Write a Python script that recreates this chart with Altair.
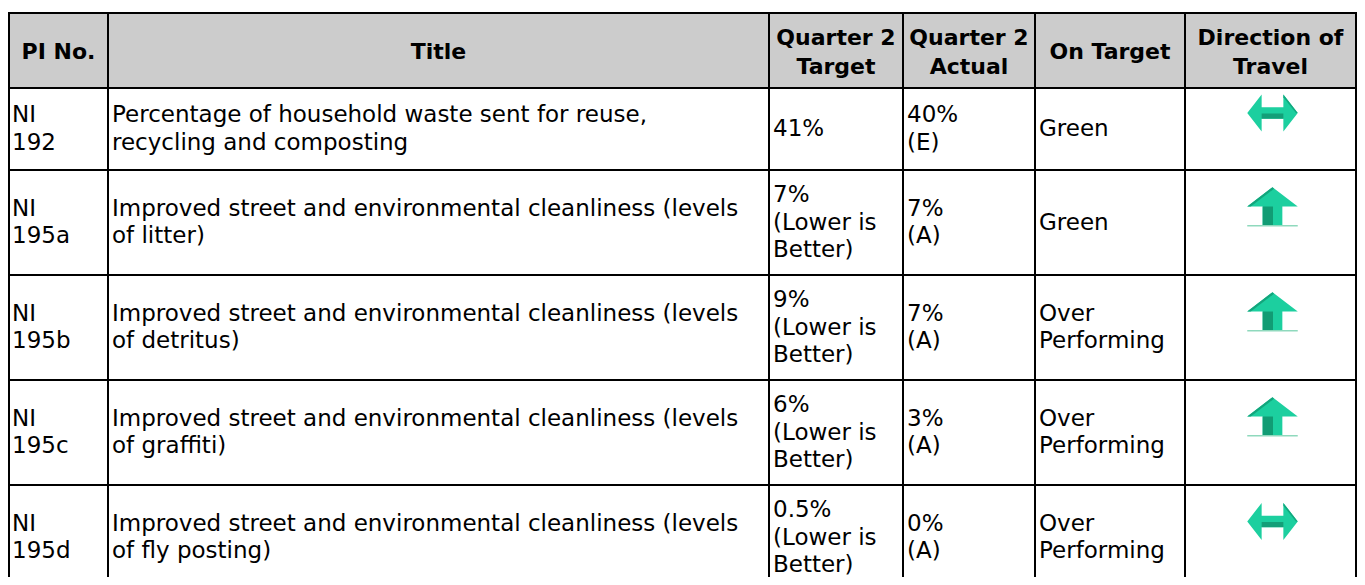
import altair as alt
import pandas as pd

# ---------------- data ----------------
HEADERS = ["PI No.", "Title", "Quarter 2\nTarget", "Quarter 2\nActual", "On Target", "Direction of\nTravel"]
PI_NO = ["NI\n192", "NI\n195a", "NI\n195b", "NI\n195c", "NI\n195d"]
TITLES = [
    "Percentage of household waste sent for reuse,\nrecycling and composting",
    "Improved street and environmental cleanliness (levels\nof litter)",
    "Improved street and environmental cleanliness (levels\nof detritus)",
    "Improved street and environmental cleanliness (levels\nof graffiti)",
    "Improved street and environmental cleanliness (levels\nof fly posting)",
]
TARGETS = ["41%", "7%\n(Lower is\nBetter)", "9%\n(Lower is\nBetter)", "6%\n(Lower is\nBetter)", "0.5%\n(Lower is\nBetter)"]
ACTUALS = ["40%\n(E)", "7%\n(A)", "7%\n(A)", "3%\n(A)", "0%\n(A)"]
ON_TARGET = ["Green", "Green", "Over\nPerforming", "Over\nPerforming", "Over\nPerforming"]
DIRECTION = ["same", "up", "up", "up", "same"]

# ---------------- layout (page pixels) ----------------
X0, X1 = 8, 1357
Y0, Y1 = 8, 577
W, H = X1 - X0, Y1 - Y0
COL_EDGES = [9, 108, 769, 903, 1035, 1185, 1356]
ROW_EDGES = [13, 88, 170, 275, 380, 485, 590]
FONT = "DejaVu Sans"
HDR_LH = 29
BODY_LH = 27.5

xs = alt.Scale(domain=[X0, X1], nice=False, zero=False)
ys = alt.Scale(domain=[Y0, Y1], nice=False, zero=False, reverse=True)


def X(f="x"):
    return alt.X(f"{f}:Q", scale=xs, axis=None)


def Y(f="y"):
    return alt.Y(f"{f}:Q", scale=ys, axis=None)


def block_y(center, text, lh):
    n = text.count("\n") + 1
    return center - (n - 1) * lh / 2


# header background
hdr_bg = pd.DataFrame([{"x": COL_EDGES[0], "x2": COL_EDGES[-1], "y": ROW_EDGES[0], "y2": ROW_EDGES[1]}])
bg = alt.Chart(hdr_bg).mark_rect(color="#cccccc").encode(x=X(), x2="x2:Q", y=Y(), y2="y2:Q")

# grid lines
vdf = pd.DataFrame([{"x": e, "y": ROW_EDGES[0] - 1, "y2": ROW_EDGES[-1]} for e in COL_EDGES])
hdf = pd.DataFrame([{"y": e, "x": COL_EDGES[0] - 1, "x2": COL_EDGES[-1] + 1} for e in ROW_EDGES])
vlines = alt.Chart(vdf).mark_rule(color="black", strokeWidth=2).encode(x=X(), y=Y(), y2="y2:Q")
hlines = alt.Chart(hdf).mark_rule(color="black", strokeWidth=2).encode(y=Y(), x=X(), x2="x2:Q")

# header text
hdr_rows = []
hc = (ROW_EDGES[0] + ROW_EDGES[1]) / 2 + 1.5
for i, h in enumerate(HEADERS):
    hdr_rows.append({"x": (COL_EDGES[i] + COL_EDGES[i + 1]) / 2,
                     "y": block_y(hc, h, HDR_LH), "t": h})
hdr_text = alt.Chart(pd.DataFrame(hdr_rows)).mark_text(
    font=FONT, fontWeight="bold", fontSize=22, lineHeight=HDR_LH, lineBreak="\n",
    align="center", baseline="middle", color="black"
).encode(x=X(), y=Y(), text="t:N")

# body text
body = []
cols = [PI_NO, TITLES, TARGETS, ACTUALS, ON_TARGET]
for r in range(len(PI_NO)):
    yc = (ROW_EDGES[r + 1] + ROW_EDGES[r + 2]) / 2
    for c, col in enumerate(cols):
        off = 3 if c == 0 else 4
        body.append({"x": COL_EDGES[c] + off, "y": block_y(yc, col[r], BODY_LH), "t": col[r]})
body_text = alt.Chart(pd.DataFrame(body)).mark_text(
    font=FONT, fontSize=23, lineHeight=BODY_LH, lineBreak="\n",
    align="left", baseline="middle", color="black"
).encode(x=X(), y=Y(), text="t:N")

# arrows
arr = []
for r, d in enumerate(DIRECTION):
    yc = (ROW_EDGES[r + 1] + ROW_EDGES[r + 2]) / 2 - 16
    arr.append({"x": (COL_EDGES[5] + COL_EDGES[6]) / 2 + 2, "y": yc, "dir": d})
adf = pd.DataFrame(arr)

H_MAIN = "M-1,0L-0.43,-0.735L-0.43,-0.225L0.43,-0.225L0.43,-0.735L1,0L0.43,0.735L0.43,0.225L-0.43,0.225L-0.43,0.735Z"
H_SHADE = "M-0.43,0.02L0.43,0.02L0.43,0.225L-0.43,0.225Z"
H_EDGE = "M0.43,-0.735L1,0L0.93,0L0.43,-0.62Z"
U_MAIN = "M0,-0.765L1,0L0.39,0L0.39,0.765L-0.39,0.765L-0.39,0L-1,0Z"
U_SHADE = "M-0.39,0L0.02,0L0.02,0.765L-0.39,0.765Z"
U_EDGE = "M0,-0.765L0.06,-0.7L-0.86,0L-1,0Z"
U_LINE = "M-1,0.735L1,0.735L1,0.79L-1,0.79Z"


def arrow(dirv, path, color):
    return alt.Chart(adf).transform_filter(alt.datum.dir == dirv).mark_point(
        shape=path, filled=True, size=2550, color=color, opacity=1, strokeWidth=0
    ).encode(x=X(), y=Y())


arrows = [
    arrow("same", H_MAIN, "#1ccf9f"),
    arrow("same", H_SHADE, "#139f78"),
    arrow("same", H_EDGE, "#12a87e"),
    arrow("up", U_MAIN, "#1ccf9f"),
    arrow("up", U_SHADE, "#119c74"),
    arrow("up", U_EDGE, "#13a57c"),
    arrow("up", U_LINE, "#8fd9bd"),
]

chart = alt.layer(bg, hdr_text, body_text, *arrows, vlines, hlines).properties(
    width=W, height=H, padding=0, autosize=alt.AutoSizeParams(type="none")
).configure_view(stroke=None)

chart.save("out.html", embed_options={"renderer": "svg", "actions": False})
